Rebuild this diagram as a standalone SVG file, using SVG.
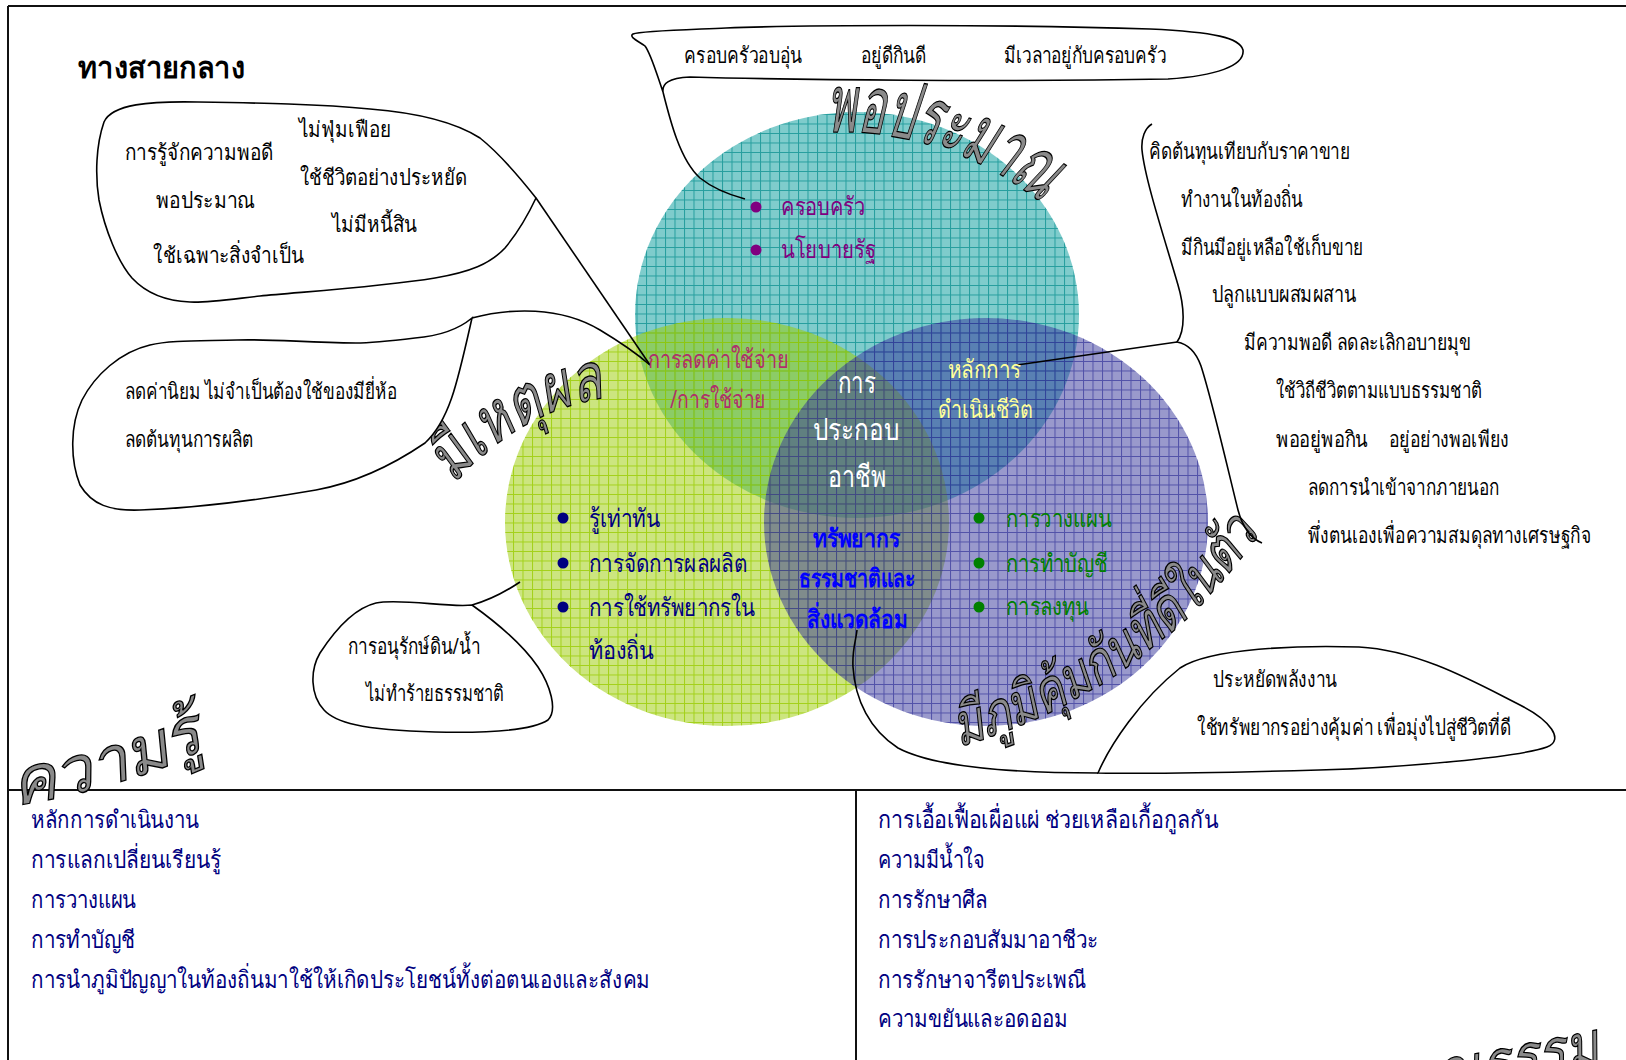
<svg xmlns="http://www.w3.org/2000/svg" width="1626" height="1060" viewBox="0 0 1626 1060">
<defs>
<style>
text { font-family: 'Noto Sans', sans-serif; }
.k { font-size: 22px; fill: #000; }
.nv { font-size: 24px; fill: #000080; }
.c { font-size: 25px; }
.wa { font-style: italic; fill: #8a8a8a; stroke: #000; stroke-width: 1.3px; }
.bub { fill: #fff; stroke: #000; stroke-width: 1.6; }
.ln { fill: none; stroke: #000; stroke-width: 1.6; }
.frame { stroke: #111; stroke-width: 2; fill: none; }
</style>
<pattern id="gT" width="9.5" height="9.5" patternUnits="userSpaceOnUse"><path d="M0 0.5H9.5M0.5 0V9.5" stroke="#008b8b" stroke-opacity="0.7" stroke-width="1" fill="none"/></pattern>
<pattern id="gG" width="9.5" height="9.5" patternUnits="userSpaceOnUse"><path d="M0 0.5H9.5M0.5 0V9.5" stroke="#99cc00" stroke-opacity="0.8" stroke-width="1" fill="none"/></pattern>
<pattern id="gB" width="9.5" height="9.5" patternUnits="userSpaceOnUse"><path d="M0 0.5H9.5M0.5 0V9.5" stroke="#333399" stroke-opacity="0.7" stroke-width="1" fill="none"/></pattern>
<path id="arcP" d="M 827.2,132.3 A 317,317 0 0,1 1044.8,206.2"/>
<path id="arcH" d="M 454.9,484.7 A 242,242 0 0,1 605.1,398"/>
<path id="arcI" d="M 958.7,746.6 A 541,541 0 0,0 1259.8,533"/>
<path id="arcK" d="M 15,806 Q 120,790 215,745"/>
<path id="arcM" d="M 1405,1100 Q 1500,1086 1608,1062"/>
</defs>
<rect width="1626" height="1060" fill="#fff"/>

<g id="frame">
<path class="frame" d="M8,6 H1626 M8,6 V1060"/>
<path class="frame" d="M8,790 H1626 M856,790 V1060"/>
</g>

<g id="circle-teal">
<ellipse cx="857" cy="315" rx="222" ry="203" fill="#009999" fill-opacity="0.5"/>
<ellipse cx="857" cy="315" rx="222" ry="203" fill="url(#gT)"/>
</g>
<g id="circle-green">
<ellipse cx="727" cy="522" rx="222" ry="204" fill="#99cc00" fill-opacity="0.5"/>
<ellipse cx="727" cy="522" rx="222" ry="204" fill="url(#gG)"/>
</g>
<g id="circle-blue">
<ellipse cx="986" cy="522" rx="222" ry="204" fill="#333399" fill-opacity="0.5"/>
<ellipse cx="986" cy="522" rx="222" ry="204" fill="url(#gB)"/>
</g>

<g id="wordart">
<text class="wa" font-size="80"><textPath href="#arcP" textLength="229" lengthAdjust="spacingAndGlyphs">พอประมาณ</textPath></text>
<text class="wa" font-size="66"><textPath href="#arcH" textLength="177" lengthAdjust="spacingAndGlyphs">มีเหตุผล</textPath></text>
<text class="wa" font-size="58"><textPath href="#arcI" textLength="377" lengthAdjust="spacingAndGlyphs">มีภูมิคุ้มกันที่ดีในตัว</textPath></text>
<text class="wa" font-size="66"><textPath href="#arcK" textLength="200" lengthAdjust="spacingAndGlyphs">ความรู้</textPath></text>
<text class="wa" font-size="62"><textPath href="#arcM" textLength="200" lengthAdjust="spacingAndGlyphs">คุณธรรม</textPath></text>
</g>

<g id="title"><text x="78" y="78" font-size="30" font-weight="bold" textLength="167" lengthAdjust="spacingAndGlyphs">ทางสายกลาง</text></g>

<g id="bubble-top">
<path class="bub" d="M 663,92 C 662,84 668,78 690,77 C 800,80 1000,82 1168,79 C 1215,76 1245,66 1243,50 C 1240,38 1215,32 1150,29 C 1000,24 800,25 726,28 C 680,30 640,31 633,34 C 628,37 640,42 645,46 C 651,54 656,72 663,92 Z"/>
<text class="k" x="684" y="63" textLength="118" lengthAdjust="spacingAndGlyphs">ครอบครัวอบอุ่น</text>
<text class="k" x="861" y="63" textLength="65" lengthAdjust="spacingAndGlyphs">อยู่ดีกินดี</text>
<text class="k" x="1004" y="63" textLength="162" lengthAdjust="spacingAndGlyphs">มีเวลาอยู่กับครอบครัว</text>
</g>

<g id="bubble-left1">
<path class="bub" d="M 536,198 C 528,215 520,230 505,248 C 490,264 470,272 435,278 C 380,287 300,292 260,296 C 225,300 205,303 190,302 C 165,301 145,292 132,278 C 118,262 105,230 99,200 C 95,175 96,145 104,122 C 112,104 150,101 198,102 C 260,103 320,104 370,109 C 420,113 455,122 480,138 C 495,150 510,165 536,198 Z"/>
<text class="k" x="299" y="137" textLength="92" lengthAdjust="spacingAndGlyphs">ไม่ฟุ่มเฟือย</text>
<text class="k" x="125" y="160" textLength="148" lengthAdjust="spacingAndGlyphs">การรู้จักความพอดี</text>
<text class="k" x="300" y="185" textLength="167" lengthAdjust="spacingAndGlyphs">ใช้ชีวิตอย่างประหยัด</text>
<text class="k" x="156" y="208" textLength="99" lengthAdjust="spacingAndGlyphs">พอประมาณ</text>
<text class="k" x="332" y="232" textLength="85" lengthAdjust="spacingAndGlyphs">ไม่มีหนี้สิน</text>
<text class="k" x="153" y="263" textLength="151" lengthAdjust="spacingAndGlyphs">ใช้เฉพาะสิ่งจำเป็น</text>
</g>

<g id="bubble-left2">
<path class="bub" d="M 472,318 C 460,328 440,336 415,338 C 390,341 370,343 356,343 C 300,342 270,339 237,340 C 200,341 170,340 150,345 C 120,352 95,375 82,400 C 70,425 70,460 80,485 C 92,505 110,511 140,510 C 200,508 270,498 316,490 C 360,482 400,460 425,443 C 450,420 458,380 472,318 Z"/>
<text class="k" x="125" y="399" textLength="272" lengthAdjust="spacingAndGlyphs">ลดค่านิยม ไม่จำเป็นต้องใช้ของมียี่ห้อ</text>
<text class="k" x="125" y="447" textLength="128" lengthAdjust="spacingAndGlyphs">ลดต้นทุนการผลิต</text>
</g>

<g id="bubble-left3">
<path class="bub" d="M 472,605 C 450,608 400,598 376,603 C 355,608 335,630 320,653 C 310,670 310,695 324,710 C 335,722 360,730 435,732 C 480,733 530,732 548,720 C 558,710 550,685 538,667 C 525,648 500,625 472,605 Z"/>
<text class="k" x="348" y="654" textLength="132" lengthAdjust="spacingAndGlyphs">การอนุรักษ์ดิน/น้ำ</text>
<text class="k" x="366" y="701" textLength="138" lengthAdjust="spacingAndGlyphs">ไม่ทำร้ายธรรมชาติ</text>
</g>

<g id="bubble-bottom-right">
<path class="bub" d="M 1098,773 C 1110,745 1140,700 1180,668 C 1210,648 1300,645 1359,647 C 1420,650 1480,685 1520,705 C 1550,720 1565,740 1547,747 C 1520,757 1400,768 1319,770 C 1250,772 1150,774 1098,773 Z"/>
<text class="k" x="1213" y="687" textLength="124" lengthAdjust="spacingAndGlyphs">ประหยัดพลังงาน</text>
<text class="k" x="1197" y="735" textLength="314" lengthAdjust="spacingAndGlyphs">ใช้ทรัพยากรอย่างคุ้มค่า เพื่อมุ่งไปสู่ชีวิตที่ดี</text>
</g>

<g id="connectors">
<path class="ln" d="M 663,92 C 670,120 680,160 700,178 C 715,190 730,195 745,199"/>
<path class="ln" d="M 536,198 L 650,365"/>
<path class="ln" d="M 472,318 C 510,308 560,306 600,330 C 620,342 635,352 650,365"/>
<path class="ln" d="M 472,605 C 490,600 505,592 520,582"/>
<path class="ln" d="M 1098,773 C 1000,773 930,765 898,748 C 870,730 855,700 853,667 C 852,650 856,640 857,630"/>
<path class="ln" d="M 1152,124 C 1145,128 1141,138 1142,150 C 1145,180 1165,240 1178,285 C 1184,305 1186,330 1177,342 C 1188,344 1196,352 1201,366 C 1212,400 1228,470 1238,510 C 1242,525 1250,538 1262,543"/>
<path class="ln" d="M 1017,365 L 1177,342"/>
</g>

<g id="list-right">
<text class="k" x="1149" y="159" textLength="201" lengthAdjust="spacingAndGlyphs">คิดต้นทุนเทียบกับราคาขาย</text>
<text class="k" x="1181" y="207" textLength="122" lengthAdjust="spacingAndGlyphs">ทำงานในท้องถิ่น</text>
<text class="k" x="1181" y="255" textLength="182" lengthAdjust="spacingAndGlyphs">มีกินมีอยู่เหลือใช้เก็บขาย</text>
<text class="k" x="1212" y="302" textLength="144" lengthAdjust="spacingAndGlyphs">ปลูกแบบผสมผสาน</text>
<text class="k" x="1244" y="350" textLength="227" lengthAdjust="spacingAndGlyphs">มีความพอดี ลดละเลิกอบายมุข</text>
<text class="k" x="1276" y="398" textLength="206" lengthAdjust="spacingAndGlyphs">ใช้วิถีชีวิตตามแบบธรรมชาติ</text>
<text class="k" x="1276" y="447" textLength="92" lengthAdjust="spacingAndGlyphs">พออยู่พอกิน</text>
<text class="k" x="1389" y="447" textLength="120" lengthAdjust="spacingAndGlyphs">อยู่อย่างพอเพียง</text>
<text class="k" x="1308" y="495" textLength="191" lengthAdjust="spacingAndGlyphs">ลดการนำเข้าจากภายนอก</text>
<text class="k" x="1308" y="543" textLength="283" lengthAdjust="spacingAndGlyphs">พึ่งตนเองเพื่อความสมดุลทางเศรษฐกิจ</text>
</g>

<g id="teal-items" fill="#800080">
<circle cx="756" cy="207" r="5.5"/><circle cx="756" cy="250" r="5.5"/>
<text class="c" x="781" y="215" textLength="84" lengthAdjust="spacingAndGlyphs">ครอบครัว</text>
<text class="c" x="781" y="258" textLength="95" lengthAdjust="spacingAndGlyphs">นโยบายรัฐ</text>
</g>
<g id="green-items" fill="#000080">
<circle cx="563" cy="518" r="5.5"/><circle cx="563" cy="563" r="5.5"/><circle cx="563" cy="607" r="5.5"/>
<text class="c" x="589" y="527" textLength="71" lengthAdjust="spacingAndGlyphs">รู้เท่าทัน</text>
<text class="c" x="589" y="572" textLength="158" lengthAdjust="spacingAndGlyphs">การจัดการผลผลิต</text>
<text class="c" x="589" y="616" textLength="166" lengthAdjust="spacingAndGlyphs">การใช้ทรัพยากรใน</text>
<text class="c" x="589" y="659" textLength="65" lengthAdjust="spacingAndGlyphs">ท้องถิ่น</text>
</g>
<g id="blue-items" fill="#008000">
<circle cx="979" cy="518" r="5.5"/><circle cx="979" cy="563" r="5.5"/><circle cx="979" cy="607" r="5.5"/>
<text class="c" x="1006" y="527" textLength="106" lengthAdjust="spacingAndGlyphs">การวางแผน</text>
<text class="c" x="1006" y="572" textLength="102" lengthAdjust="spacingAndGlyphs">การทำบัญชี</text>
<text class="c" x="1006" y="615" textLength="83" lengthAdjust="spacingAndGlyphs">การลงทุน</text>
</g>
<g id="teal-green" fill="#b0306a">
<text class="c" x="648" y="368" textLength="141" lengthAdjust="spacingAndGlyphs">การลดค่าใช้จ่าย</text>
<text class="c" x="670" y="408" textLength="96" lengthAdjust="spacingAndGlyphs">/การใช้จ่าย</text>
</g>
<g id="center" fill="#ffffff">
<text x="838" y="393" font-size="30" textLength="38" lengthAdjust="spacingAndGlyphs">การ</text>
<text x="813" y="440" font-size="30" textLength="86" lengthAdjust="spacingAndGlyphs">ประกอบ</text>
<text x="828" y="487" font-size="30" textLength="58" lengthAdjust="spacingAndGlyphs">อาชีพ</text>
</g>
<g id="teal-blue" fill="#ffff99">
<text class="c" x="948" y="378" textLength="73" lengthAdjust="spacingAndGlyphs">หลักการ</text>
<text class="c" x="938" y="418" textLength="95" lengthAdjust="spacingAndGlyphs">ดำเนินชีวิต</text>
</g>
<g id="green-blue" fill="#0000ff" font-weight="bold">
<text class="c" x="813" y="547" textLength="87" lengthAdjust="spacingAndGlyphs">ทรัพยากร</text>
<text class="c" x="799" y="587" textLength="116" lengthAdjust="spacingAndGlyphs">ธรรมชาติและ</text>
<text class="c" x="807" y="628" textLength="100" lengthAdjust="spacingAndGlyphs">สิ่งแวดล้อม</text>
</g>

<g id="list-knowledge">
<text class="nv" x="31" y="828" textLength="168" lengthAdjust="spacingAndGlyphs">หลักการดำเนินงาน</text>
<text class="nv" x="31" y="868" textLength="190" lengthAdjust="spacingAndGlyphs">การแลกเปลี่ยนเรียนรู้</text>
<text class="nv" x="31" y="908" textLength="105" lengthAdjust="spacingAndGlyphs">การวางแผน</text>
<text class="nv" x="31" y="948" textLength="104" lengthAdjust="spacingAndGlyphs">การทำบัญชี</text>
<text class="nv" x="31" y="988" textLength="619" lengthAdjust="spacingAndGlyphs">การนำภูมิปัญญาในท้องถิ่นมาใช้ให้เกิดประโยชน์ทั้งต่อตนเองและสังคม</text>
</g>
<g id="list-virtue">
<text class="nv" x="878" y="828" textLength="340" lengthAdjust="spacingAndGlyphs">การเอื้อเฟื้อเผื่อแผ่ ช่วยเหลือเกื้อกูลกัน</text>
<text class="nv" x="878" y="868" textLength="107" lengthAdjust="spacingAndGlyphs">ความมีน้ำใจ</text>
<text class="nv" x="878" y="908" textLength="110" lengthAdjust="spacingAndGlyphs">การรักษาศีล</text>
<text class="nv" x="878" y="948" textLength="220" lengthAdjust="spacingAndGlyphs">การประกอบสัมมาอาชีวะ</text>
<text class="nv" x="878" y="988" textLength="208" lengthAdjust="spacingAndGlyphs">การรักษาจารีตประเพณี</text>
<text class="nv" x="878" y="1027" textLength="190" lengthAdjust="spacingAndGlyphs">ความขยันและอดออม</text>
</g>
</svg>
